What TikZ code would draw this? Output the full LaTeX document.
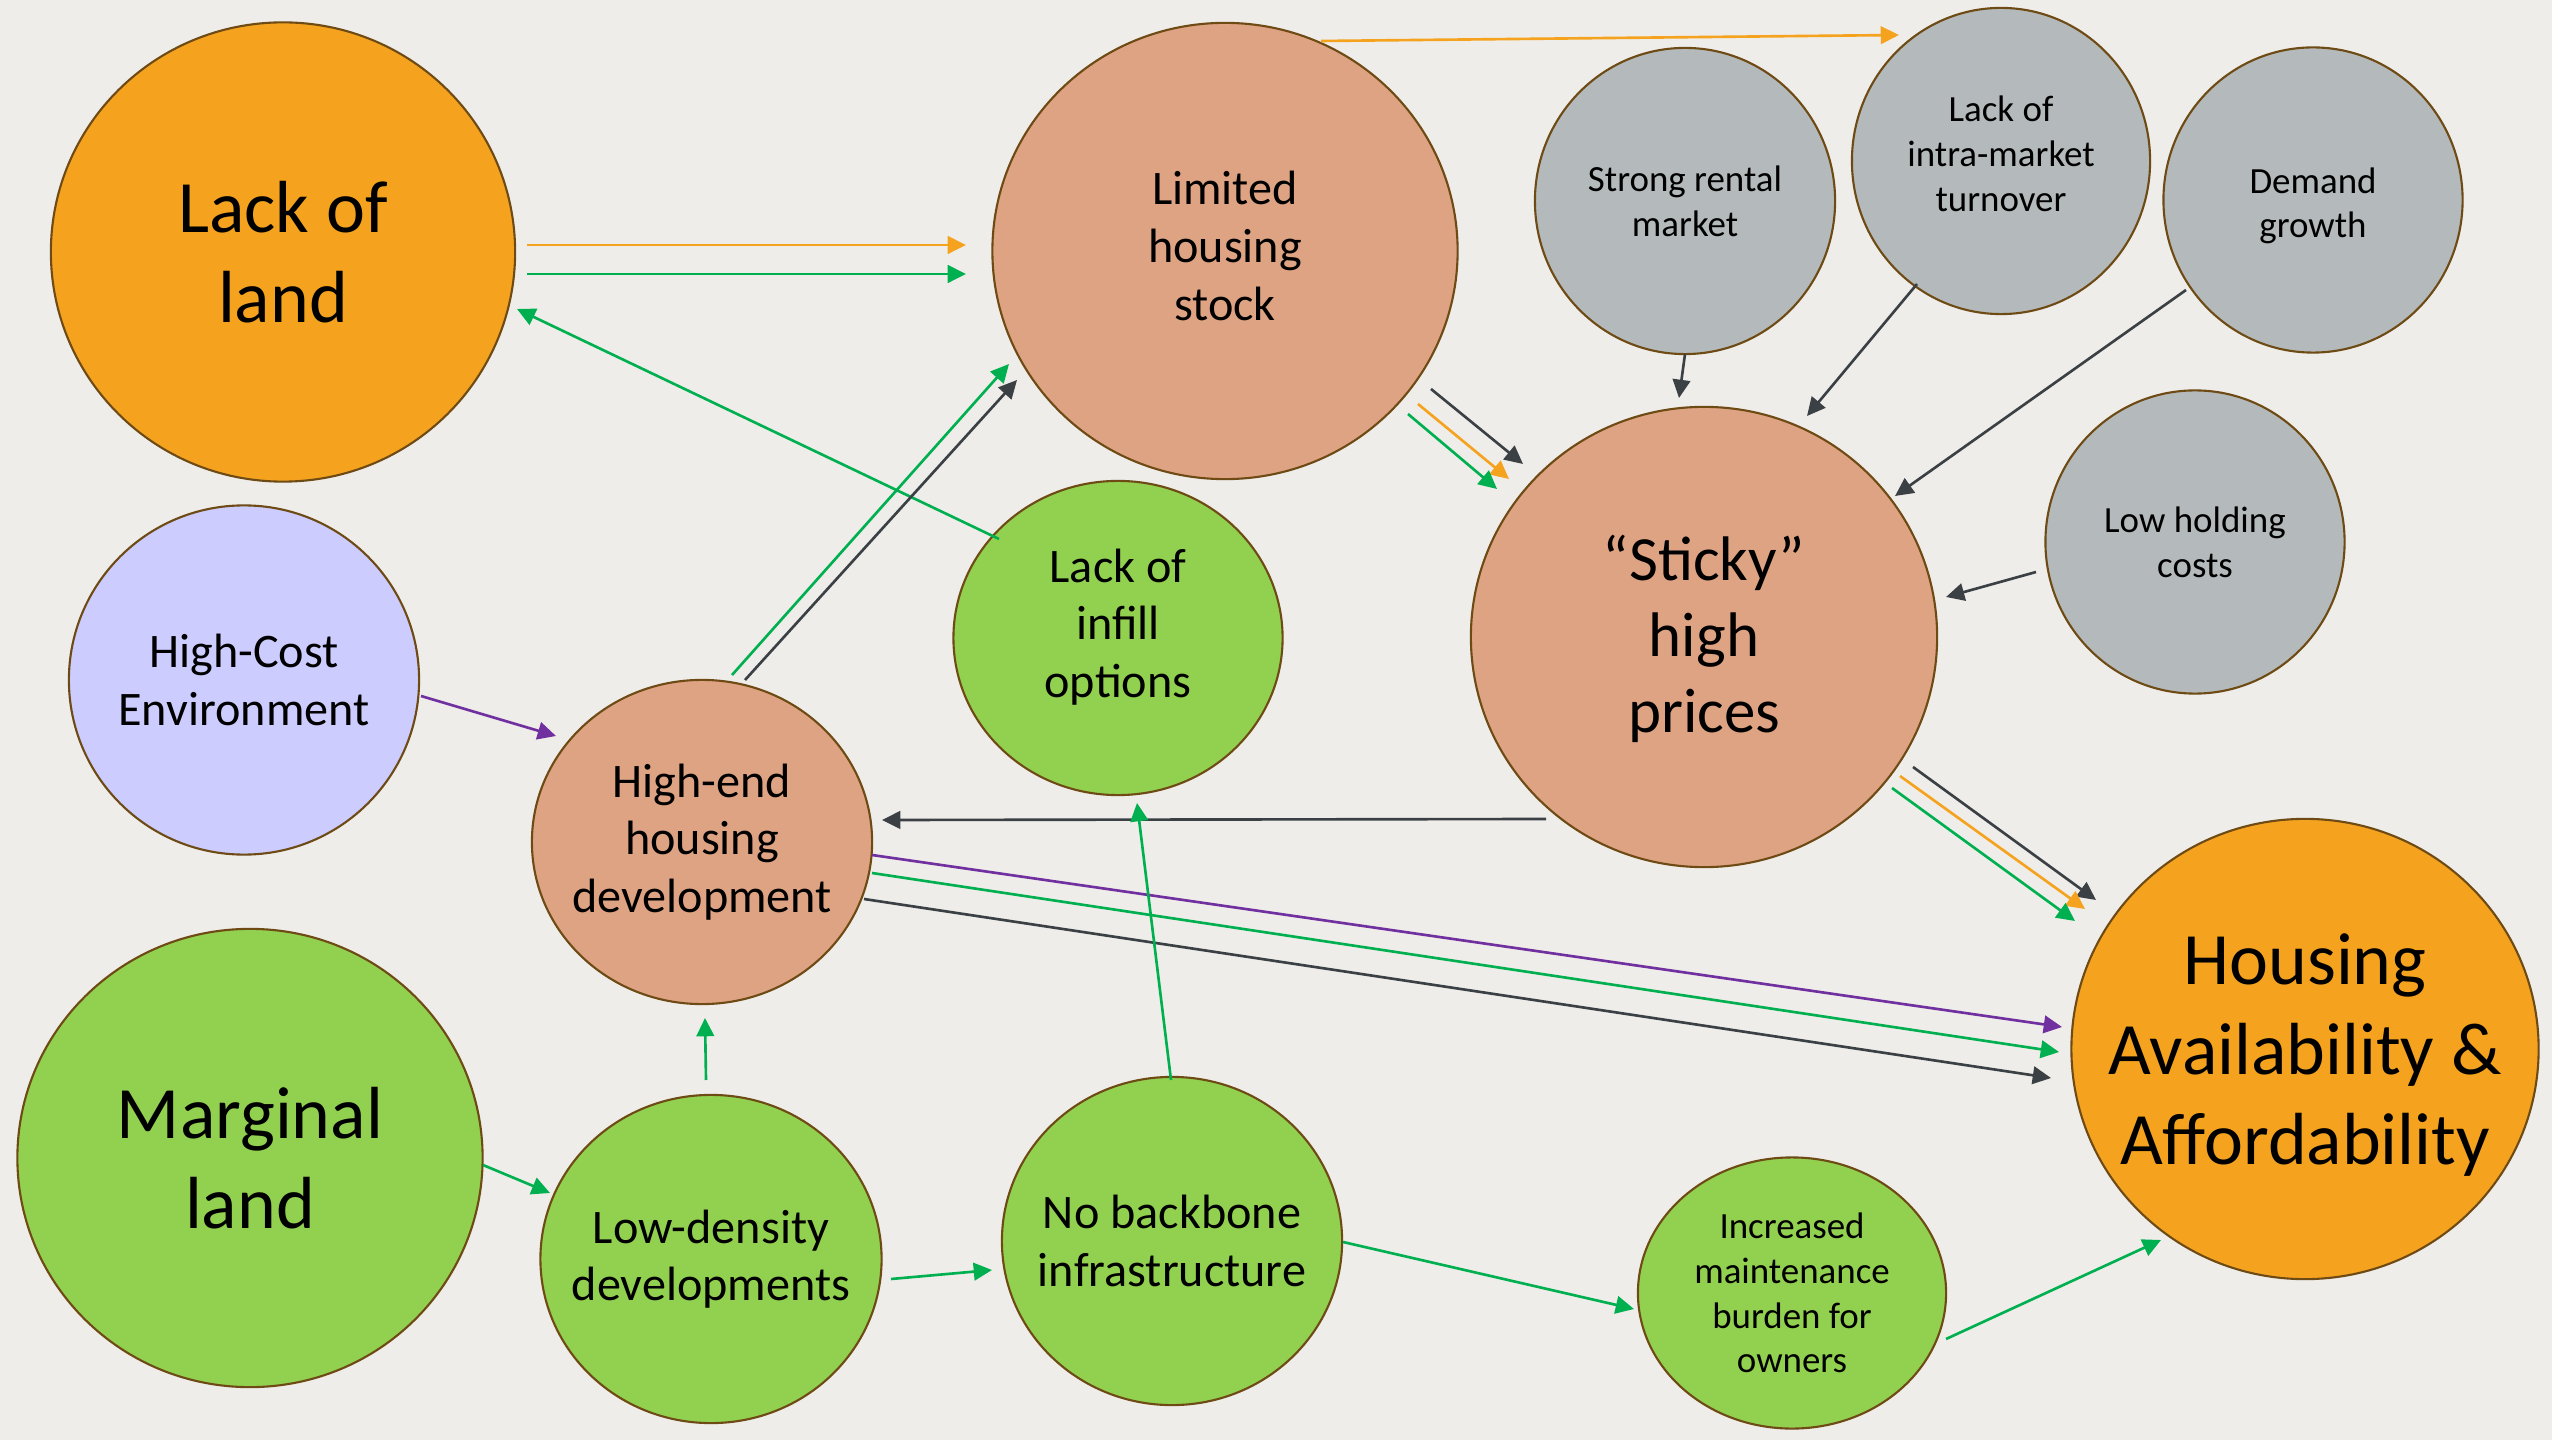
\documentclass[tikz,border=0pt]{standalone}
\usepackage{fontspec}
\setmainfont{Carlito}
\usepackage{tikz}
\usetikzlibrary{shapes.geometric, arrows.meta, calc}
\definecolor{paper}{HTML}{EFEDE9}
\definecolor{rim}{HTML}{6E4A14}
\definecolor{amber}{HTML}{F5A31F}
\definecolor{salmon}{HTML}{DEA383}
\definecolor{stone}{HTML}{B4BABB}
\definecolor{leaf}{HTML}{92D050}
\definecolor{lilac}{HTML}{CCCCFF}
\definecolor{slate}{HTML}{3B4045}
\definecolor{linegreen}{HTML}{00B050}
\definecolor{lineorange}{HTML}{F5A31F}
\definecolor{linepurple}{HTML}{7030A0}
\tikzset{
    base/.style={ellipse, draw=rim, line width=0.6pt, inner sep=0pt},
    orangeball/.style={base, fill=amber},
    salmonball/.style={base, fill=salmon},
    greyball/.style={base, fill=stone},
    greenball/.style={base, fill=leaf},
    lilacball/.style={base, fill=lilac},
    bigtext/.style={align=center, font=\fontsize{21}{25.5}\selectfont},
    stickytext/.style={align=center, font=\fontsize{17.9}{21.6}\selectfont},
    midtext/.style={align=center, font=\fontsize{13.7}{16.4}\selectfont},
    smalltext/.style={align=center, font=\fontsize{10.5}{12.7}\selectfont},
    arrow/.style={-{Triangle[length=5.2pt, width=5pt]}, line width=0.75pt, draw=slate},
    greenarrow/.style={arrow, draw=linegreen},
    orangearrow/.style={arrow, draw=lineorange},
    purplearrow/.style={arrow, draw=linepurple}
}

\begin{document}
\begin{tikzpicture}[x=0.01cm, y=-0.01cm]
    % Backdrop
    \fill[paper] (0,0) rectangle (2552,1440);

    % Top row
    \node[orangeball, minimum width=4.64cm, minimum height=4.59cm, label={[bigtext]center:Lack of\\land}] (land) at (283,252) {};
    \node[salmonball, minimum width=4.65cm, minimum height=4.56cm, label={[midtext, yshift=1.4pt]center:Limited\\housing\\stock}] (limited) at (1225,251) {};
    \node[greyball, minimum width=3.00cm, minimum height=3.06cm, label={[smalltext]center:Strong rental\\market}] (rental) at (1685,201) {};
    \node[greyball, minimum width=2.98cm, minimum height=3.06cm, label={[smalltext, yshift=2pt]center:Lack of\\intra-market\\turnover}] (turnover) at (2001,161) {};
    \node[greyball, minimum width=2.99cm, minimum height=3.05cm, label={[smalltext, yshift=-1.7pt]center:Demand\\growth}] (demand) at (2313,200) {};

    % Middle row
    \node[lilacball, minimum width=3.50cm, minimum height=3.49cm, label={[midtext]center:High-Cost\\Environment}] (highcost) at (244,680) {};
    \node[greenball, minimum width=3.29cm, minimum height=3.14cm, label={[midtext, yshift=3.1pt]center:Lack of\\infill\\options}] (infill) at (1118,638) {};
    \node[salmonball, minimum width=3.40cm, minimum height=3.24cm, label={[midtext]center:High-end\\housing\\development}] (highend) at (702,842) {};
    \node[salmonball, minimum width=4.66cm, minimum height=4.60cm, label={[stickytext, yshift=-0.6pt]center:“Sticky”\\high\\prices}] (sticky) at (1704,637) {};
    \node[greyball, minimum width=2.99cm, minimum height=3.03cm, label={[smalltext]center:Low holding\\costs}] (holding) at (2195,542) {};

    % Bottom row
    \node[greenball, minimum width=4.65cm, minimum height=4.58cm, label={[bigtext]center:Marginal\\land}] (marginal) at (250,1158) {};
    \node[greenball, minimum width=3.41cm, minimum height=3.28cm, label={[midtext]center:Low-density\\developments}] (lowdensity) at (711,1259) {};
    \node[greenball, minimum width=3.40cm, minimum height=3.28cm, label={[midtext]center:No backbone\\infrastructure}] (backbone) at (1172,1241) {};
    \node[greenball, minimum width=3.08cm, minimum height=2.71cm, label={[smalltext]center:Increased\\maintenance\\burden for\\owners}] (burden) at (1792,1293) {};
    \node[orangeball, minimum width=4.67cm, minimum height=4.60cm, label={[bigtext, yshift=-1.7pt]center:Housing\\Availability \&\\Affordability}] (housing) at (2305,1049) {};

    % Land and stock
    \draw[orangearrow] ($(land)+(244,-7)$) -- ($(limited)+(-259,-6)$);
    \draw[greenarrow] ($(land)+(244,22)$) -- ($(limited)+(-259,23)$);
    \draw[greenarrow] ($(infill)+(-119,-99)$) -- ($(land)+(234,57)$);
    \draw[greenarrow] ($(highend)+(30,-167)$) -- ($(limited)+(-216,113)$);
    \draw[arrow] ($(highend)+(43,-162)$) -- ($(limited)+(-208,129)$);
    \draw[orangearrow] ($(limited)+(96,-210)$) -- ($(turnover)+(-102,-126)$);

    % Into sticky prices
    \draw[arrow] ($(limited)+(206,138)$) -- ($(sticky)+(-181,-173)$);
    \draw[orangearrow] ($(limited)+(193,153)$) -- ($(sticky)+(-195,-158)$);
    \draw[greenarrow] ($(limited)+(183,163)$) -- ($(sticky)+(-207,-148)$);
    \draw[arrow] ($(rental)+(0,153)$) -- ($(sticky)+(-25,-239)$);
    \draw[arrow] ($(turnover)+(-84,123)$) -- ($(sticky)+(103,-221)$);
    \draw[arrow] ($(demand)+(-127,90)$) -- ($(sticky)+(191,-141)$);
    \draw[arrow] ($(holding)+(-159,30)$) -- ($(sticky)+(242,-40)$);

    % Out of sticky prices
    \draw[arrow] ($(sticky)+(209,130)$) -- ($(housing)+(-209,-149)$);
    \draw[orangearrow] ($(sticky)+(196,139)$) -- ($(housing)+(-220,-140)$);
    \draw[greenarrow] ($(sticky)+(188,151)$) -- ($(housing)+(-230,-128)$);
    \draw[arrow] ($(sticky)+(-158,182)$) -- ($(highend)+(180,-22)$);

    % High-end development
    \draw[purplearrow] ($(highcost)+(177,16)$) -- ($(highend)+(-146,-106)$);
    \draw[purplearrow] ($(highend)+(170,13)$) -- ($(housing)+(-243,-22)$);
    \draw[greenarrow] ($(highend)+(170,31)$) -- ($(housing)+(-246,3)$);
    \draw[arrow] ($(highend)+(162,57)$) -- ($(housing)+(-254,29)$);

    % Marginal land chain
    \draw[greenarrow] ($(marginal)+(233,7)$) -- ($(lowdensity)+(-161,-66)$);
    \draw[greenarrow] ($(lowdensity)+(-5,-179)$) -- ($(highend)+(3,176)$);
    \draw[greenarrow] ($(lowdensity)+(180,20)$) -- ($(backbone)+(-180,29)$);
    \draw[greenarrow] ($(backbone)+(-1,-161)$) -- ($(infill)+(19,165)$);
    \draw[greenarrow] ($(backbone)+(171,1)$) -- ($(burden)+(-158,16)$);
    \draw[greenarrow] ($(burden)+(154,46)$) -- ($(housing)+(-144,191)$);
\end{tikzpicture}
\end{document}
